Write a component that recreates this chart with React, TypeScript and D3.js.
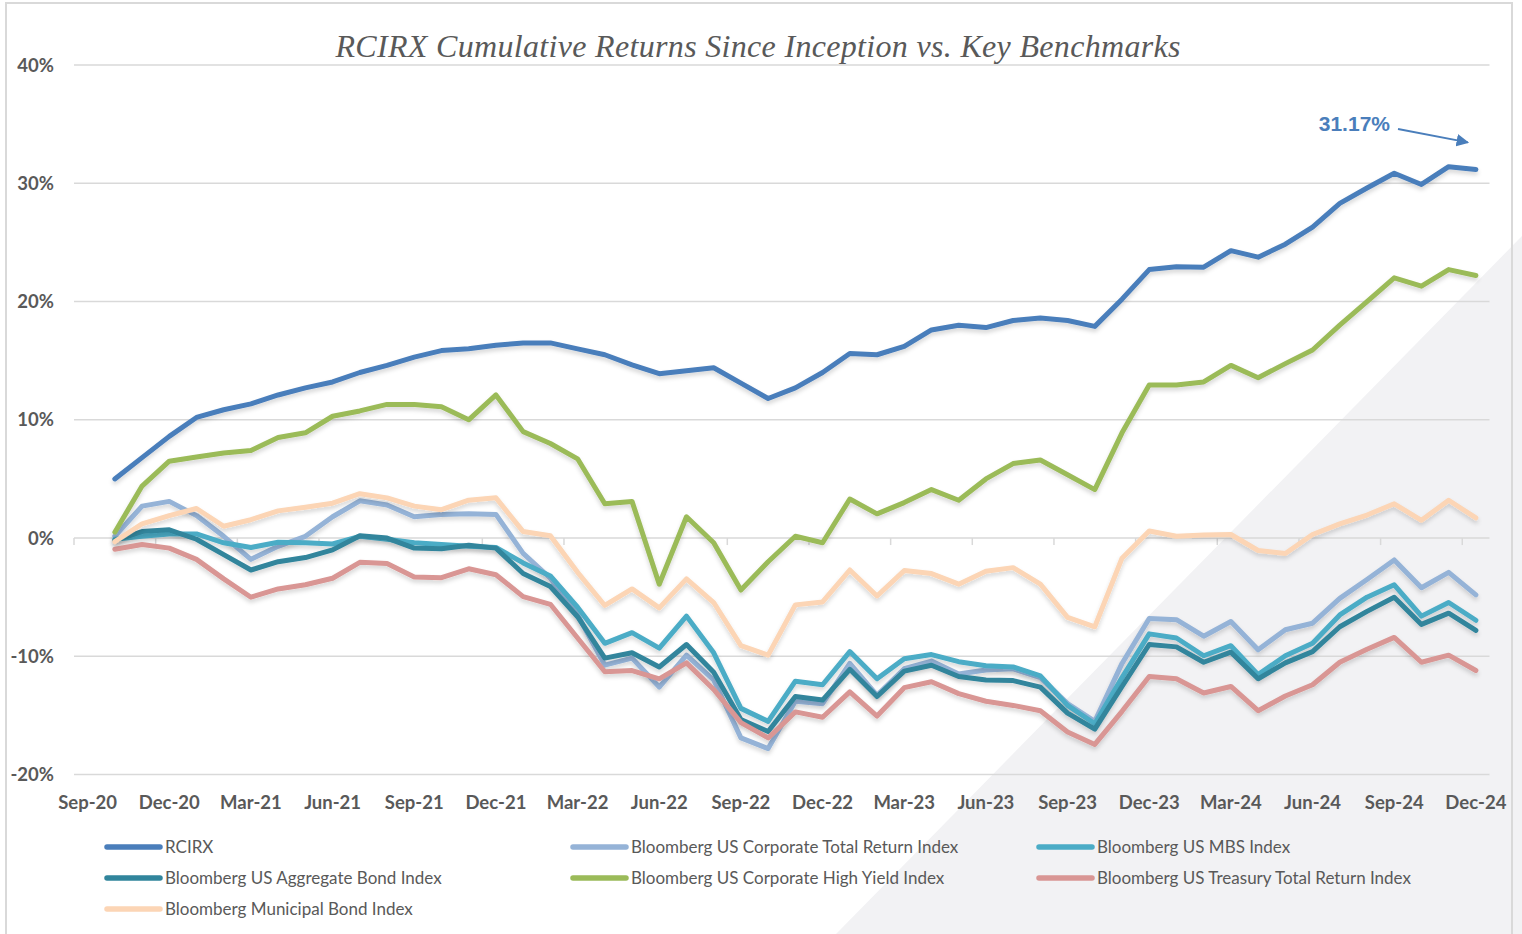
import React from 'react';
import * as d3 from 'd3';

const months = [
  'Sep-20', 'Oct-20', 'Nov-20', 'Dec-20',
  'Jan-21', 'Feb-21', 'Mar-21', 'Apr-21', 'May-21', 'Jun-21', 'Jul-21', 'Aug-21', 'Sep-21', 'Oct-21', 'Nov-21', 'Dec-21',
  'Jan-22', 'Feb-22', 'Mar-22', 'Apr-22', 'May-22', 'Jun-22', 'Jul-22', 'Aug-22', 'Sep-22', 'Oct-22', 'Nov-22', 'Dec-22',
  'Jan-23', 'Feb-23', 'Mar-23', 'Apr-23', 'May-23', 'Jun-23', 'Jul-23', 'Aug-23', 'Sep-23', 'Oct-23', 'Nov-23', 'Dec-23',
  'Jan-24', 'Feb-24', 'Mar-24', 'Apr-24', 'May-24', 'Jun-24', 'Jul-24', 'Aug-24', 'Sep-24', 'Oct-24', 'Nov-24', 'Dec-24',
];
// every third month gets a label (Excel category axis, interval 3)
const tickLabels = months.filter((_, i) => i % 3 === 0);
const yTicks = [-20, -10, 0, 10, 20, 30, 40];

// cumulative return (%) from Oct-20 to Dec-24
const rcirx = [
  5.0, 6.8, 8.6, 10.2, 10.85, 11.35, 12.1, 12.7, 13.2, 14.0,
  14.6, 15.3, 15.85, 16.0, 16.3, 16.5, 16.5, 16.0, 15.5, 14.65,
  13.9, 14.15, 14.4, 13.1, 11.8, 12.7, 14.0, 15.6, 15.5, 16.2,
  17.6, 18.0, 17.8, 18.4, 18.6, 18.4, 17.9, 20.2, 22.7, 22.95,
  22.9, 24.3, 23.75, 24.85, 26.3, 28.3, 29.6, 30.85, 29.9, 31.4,
  31.17,
];
const corporate = [
  0.15, 2.7, 3.1, 1.9, 0.15, -1.8, -0.7, 0.15, 1.8, 3.15,
  2.8, 1.8, 2.0, 2.05, 2.0, -1.3, -3.4, -6.5, -10.75, -10.15,
  -12.6, -9.9, -12.0, -16.9, -17.8, -13.8, -14.0, -10.6, -13.3, -11.05,
  -10.4, -11.5, -11.15, -11.05, -11.8, -14.0, -15.5, -10.6, -6.8, -6.9,
  -8.3, -7.05, -9.45, -7.75, -7.2, -5.1, -3.5, -1.85, -4.2, -2.9,
  -4.8,
];
const mbs = [
  -0.1, 0.15, 0.35, 0.35, -0.4, -0.8, -0.35, -0.4, -0.5, 0.15,
  -0.1, -0.4, -0.55, -0.7, -0.8, -2.1, -3.2, -5.85, -8.9, -8.0,
  -9.3, -6.6, -9.7, -14.4, -15.5, -12.1, -12.4, -9.6, -11.9, -10.2,
  -9.85, -10.45, -10.8, -10.9, -11.65, -14.15, -15.7, -11.8, -8.1, -8.45,
  -9.95, -9.1, -11.55, -9.95, -8.9, -6.5, -5.0, -3.95, -6.6, -5.45,
  -6.95,
];
const aggregate = [
  -0.2, 0.55, 0.7, -0.1, -1.4, -2.7, -2.0, -1.65, -1.0, 0.2,
  0.0, -0.85, -0.9, -0.6, -0.85, -3.0, -4.1, -6.65, -10.15, -9.7,
  -10.9, -9.0, -11.35, -15.35, -16.35, -13.4, -13.7, -11.1, -13.4, -11.25,
  -10.75, -11.7, -12.0, -12.05, -12.6, -14.8, -16.15, -12.55, -9.0, -9.2,
  -10.5, -9.65, -11.9, -10.55, -9.6, -7.5, -6.2, -5.0, -7.3, -6.35,
  -7.8,
];
const highYield = [
  0.5, 4.4, 6.5, 6.85, 7.2, 7.4, 8.5, 8.9, 10.3, 10.75,
  11.3, 11.3, 11.1, 10.0, 12.1, 9.0, 8.0, 6.7, 2.9, 3.1,
  -3.9, 1.8, -0.4, -4.4, -2.0, 0.15, -0.4, 3.3, 2.05, 3.0,
  4.1, 3.2, 5.0, 6.3, 6.6, 5.35, 4.1, 8.9, 12.95, 12.95,
  13.2, 14.6, 13.55, 14.75, 15.9, 18.0, 20.0, 22.0, 21.3, 22.7,
  22.2,
];
const treasury = [
  -0.95, -0.55, -0.85, -1.8, -3.45, -5.0, -4.3, -3.95, -3.4, -2.05,
  -2.15, -3.3, -3.35, -2.6, -3.1, -4.95, -5.6, -8.45, -11.3, -11.2,
  -11.9, -10.55, -12.8, -15.6, -16.9, -14.7, -15.15, -13.0, -15.05, -12.65,
  -12.15, -13.15, -13.8, -14.15, -14.6, -16.4, -17.45, -14.65, -11.7, -11.9,
  -13.1, -12.55, -14.6, -13.35, -12.4, -10.5, -9.4, -8.4, -10.5, -9.9,
  -11.2,
];
const municipal = [
  -0.3, 1.2, 1.9, 2.5, 1.0, 1.55, 2.3, 2.6, 2.95, 3.75,
  3.4, 2.7, 2.4, 3.2, 3.4, 0.55, 0.2, -2.9, -5.7, -4.3,
  -5.9, -3.45, -5.45, -9.1, -9.9, -5.65, -5.4, -2.7, -4.9, -2.75,
  -3.0, -3.9, -2.8, -2.5, -3.9, -6.7, -7.5, -1.7, 0.6, 0.15,
  0.25, 0.3, -1.05, -1.3, 0.3, 1.2, 1.95, 2.9, 1.5, 3.2,
  1.7,
];

const seriesNames = [
  'RCIRX',
  'Bloomberg US Corporate Total Return Index',
  'Bloomberg US MBS Index',
  'Bloomberg US Aggregate Bond Index',
  'Bloomberg US Corporate High Yield Index',
  'Bloomberg US Treasury Total Return Index',
  'Bloomberg Municipal Bond Index',
];
const seriesColors = ['#4a7ebb', '#95b3d7', '#4bacc6', '#31859c', '#9bbb59', '#d99694', '#fcd5b5'];
const seriesValues = [rcirx, corporate, mbs, aggregate, highYield, treasury, municipal];

const finalLabel = '31.17%';

const W = 1522;
const H = 934;
const textGrey = '#595959';
const gridGrey = '#d9d9d9';

export default function App() {
  const x = d3.scaleBand<string>().domain(months).range([74, 1489.5]).padding(0);
  const cx = (m: string) => (x(m) ?? 0) + x.bandwidth() / 2;
  const y = d3.scaleLinear().domain([-20, 40]).range([774.6, 65]);

  const series = seriesNames.map((name, i) => ({
    name,
    color: seriesColors[i],
    points: seriesValues[i].map((v, j) => ({ m: months[j + 1], v })),
  }));

  const line = d3
    .line<{ m: string; v: number }>()
    .x(d => cx(d.m))
    .y(d => y(d.v));

  // legend: 3 columns, filled row by row
  const legendCols = [107, 573, 1039];
  const legendRows = [847, 878, 909];

  const last = rcirx[rcirx.length - 1];
  const lastX = cx(months[months.length - 1]);

  return (
    <svg
      width={W}
      height={H}
      style={{ position: 'absolute', left: 0, top: 0, display: 'block', background: '#fff' }}
    >
      <defs>
        <filter id="shadow" x="-5%" y="-5%" width="110%" height="120%">
          <feDropShadow dx="0" dy="3" stdDeviation="2" floodColor="#000" floodOpacity="0.16" />
        </filter>
        <marker id="arrow" viewBox="0 0 10 10" refX="9" refY="5" markerWidth="7" markerHeight="7" orient="auto">
          <path d="M0,0 L10,5 L0,10 z" fill="#4a7ebb" />
        </marker>
      </defs>

      {/* decorative grey corner */}
      <polygon points={`836,934 ${W},236 ${W},${H}`} fill="#f2f2f4" />

      {/* frame */}
      <path d={`M6,${H} L6,3 L1512,3 L1512,${H}`} fill="none" stroke={gridGrey} strokeWidth={2} />

      <text
        x={758}
        y={57}
        textAnchor="middle"
        fontFamily="'Liberation Serif', 'DejaVu Serif', serif"
        fontStyle="italic"
        fontSize={32}
        fill={textGrey}
        textLength={845}
        lengthAdjust="spacing"
      >
        RCIRX Cumulative Returns Since Inception vs. Key Benchmarks
      </text>

      {/* gridlines + y labels */}
      {yTicks.map(t => (
        <g key={t}>
          <line x1={74} x2={1489.5} y1={y(t)} y2={y(t)} stroke={gridGrey} strokeWidth={1.5} />
          <text
            x={54}
            y={y(t) + 6.5}
            textAnchor="end"
            fontFamily="Lato, 'Open Sans', sans-serif"
            fontWeight="bold"
            fontSize={18.5}
            fill={textGrey}
          >
            {t}%
          </text>
        </g>
      ))}

      {/* category ticks on the zero line */}
      {tickLabels.map(m => (
        <line key={m} x1={x(m)} x2={x(m)} y1={y(0)} y2={y(0) + 7} stroke={gridGrey} strokeWidth={1.5} />
      ))}

      {/* x labels */}
      {tickLabels.map(m => (
        <text
          key={m}
          x={cx(m)}
          y={809}
          textAnchor="middle"
          fontFamily="Lato, 'Open Sans', sans-serif"
          fontWeight="bold"
          fontSize={18.5}
          fill={textGrey}
        >
          {m}
        </text>
      ))}

      {/* series */}
      {series.map(s => (
        <path
          key={s.name}
          d={line(s.points) ?? ''}
          fill="none"
          stroke={s.color}
          strokeWidth={5}
          strokeLinejoin="round"
          strokeLinecap="round"
          filter="url(#shadow)"
        />
      ))}

      {/* final value callout */}
      <text
        x={1390}
        y={131}
        textAnchor="end"
        fontFamily="'Liberation Sans', Arial, sans-serif"
        fontWeight="bold"
        fontSize={21}
        fill="#4a7ebb"
      >
        {finalLabel}
      </text>
      <line
        x1={1398}
        y1={129}
        x2={lastX - 8}
        y2={y(last) - 27}
        stroke="#4a7ebb"
        strokeWidth={1.8}
        markerEnd="url(#arrow)"
      />

      {/* legend */}
      {series.map((s, i) => {
        const lx = legendCols[i % 3];
        const ly = legendRows[Math.floor(i / 3)];
        return (
          <g key={s.name}>
            <line x1={lx} x2={lx + 53} y1={ly} y2={ly} stroke={s.color} strokeWidth={5.5} strokeLinecap="round" />
            <text
              x={lx + 58}
              y={ly + 6}
              fontFamily="Lato, 'Open Sans', sans-serif"
              fontSize={17}
              fill={textGrey}
            >
              {s.name}
            </text>
          </g>
        );
      })}
    </svg>
  );
}
